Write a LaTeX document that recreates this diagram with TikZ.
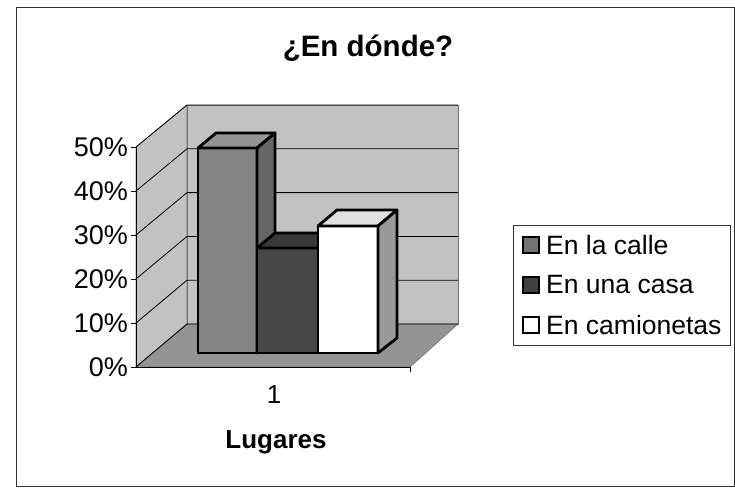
\documentclass[tikz,border=0pt]{standalone}
\usepackage{fontspec}
\setmainfont{Liberation Sans}
\begin{document}
\begin{tikzpicture}[x=1pt,y=-1pt,
  wall/.style={fill=black!24, draw=black!55, line width=0.6pt},
  floorface/.style={fill=black!42, draw=black!55, line width=0.6pt},
  grid/.style={draw=black, line width=0.8pt},
  barface/.style={draw=black, line width=2.8pt, line join=round},
  axlab/.style={font=\fontsize{27}{30}\selectfont, anchor=east, inner sep=0pt},
  legtext/.style={font=\fontsize{26.5}{30}\selectfont, anchor=west, inner sep=0pt},
  swatch/.style={draw=black, line width=1.4pt, minimum width=16pt, minimum height=16pt, inner sep=0pt}
]
\useasboundingbox (0,0) rectangle (735,488);
% outer frame
\draw[line width=0.8pt, draw=black!80] (16,7) rectangle (734,486);
% title
\node[font=\bfseries\fontsize{29.5}{32}\selectfont] (title) at (368,48) {¿En dónde?};
% walls
\fill[wall] (136,147) -- (187,105) -- (187,324) -- (136,367) -- cycle;
\fill[wall] (187,105) -- (458,105) -- (458,324) -- (187,324) -- cycle;
\fill[floorface] (136,367) -- (187,324) -- (458,324) -- (410,367) -- cycle;
% gridlines
\foreach \i in {0,...,4} {
  \pgfmathsetmacro{\yf}{367-44*\i}
  \pgfmathsetmacro{\yb}{324-43.8*\i}
  \draw[grid] (136,\yf) -- (187,\yb) -- (458,\yb);
}
\draw[grid] (136,147) -- (187,105) -- (458,105);
% axes
\draw[line width=1pt] (136,147) -- (136,367) -- (410,367);
\foreach \i in {0,...,5} {
  \pgfmathsetmacro{\yf}{367-44*\i}
  \draw[line width=1pt] (131,\yf) -- (136,\yf);
}
\draw[line width=1pt] (410,367) -- (410,372);
\node[axlab] (l0) at (128,367) {0\%};
\node[axlab] (l1) at (128,323) {10\%};
\node[axlab] (l2) at (128,279) {20\%};
\node[axlab] (l3) at (128,235) {30\%};
\node[axlab] (l4) at (128,191) {40\%};
\node[axlab] (l5) at (128,147) {50\%};
% bar 1 : En la calle
\filldraw[barface, fill=black!48] (198,148) rectangle (257,353);
\filldraw[barface, fill=black!42] (198,148) -- (216,133) -- (275,133) -- (257,148) -- cycle;
\filldraw[barface, fill=black!60] (257,148) -- (275,133) -- (275,338) -- (257,353) -- cycle;
% bar 2 : En una casa
\filldraw[barface, fill=black!72] (257,248) rectangle (318,353);
\filldraw[barface, fill=black!78] (257,248) -- (275,233) -- (336,233) -- (318,248) -- cycle;
% bar 3 : En camionetas
\filldraw[barface, fill=white] (318,226) rectangle (378,353);
\filldraw[barface, fill=black!12] (318,226) -- (337,210) -- (397,210) -- (378,226) -- cycle;
\filldraw[barface, fill=black!40] (378,226) -- (397,210) -- (397,338) -- (378,353) -- cycle;
% category and axis title
\node[font=\fontsize{26}{28}\selectfont] (cat) at (274,395) {1};
\node[font=\bfseries\fontsize{26}{28}\selectfont] (xtitle) at (276,442) {Lugares};
% legend
\draw[line width=0.8pt, draw=black!80] (513,225) rectangle (730,345);
\node[swatch, fill=black!55] (s1) at (531,245) {};
\node[swatch, fill=black!75] (s2) at (531,285) {};
\node[swatch, fill=white] (s3) at (531,325) {};
\node[legtext] (t1) at (546,245) {En la calle};
\node[legtext] (t2) at (546,285) {En una casa};
\node[legtext] (t3) at (546,325) {En camionetas};
\end{tikzpicture}
\end{document}
